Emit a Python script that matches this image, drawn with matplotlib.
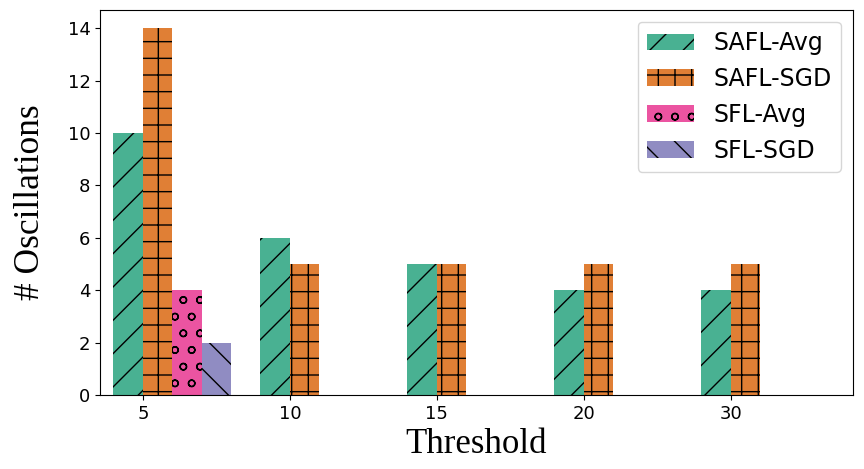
import matplotlib as mpl
mpl.use('Agg')
import matplotlib.pyplot as plt
import numpy as np

thresholds = ['5', '10', '15', '20', '30']
safl_avg = [10, 6, 5, 4, 4]
safl_sgd = [14, 5, 5, 5, 5]
sfl_avg = [4, 0, 0, 0, 0]
sfl_sgd = [2, 0, 0, 0, 0]

names = ['SAFL-Avg', 'SAFL-SGD', 'SFL-Avg', 'SFL-SGD']
series = [safl_avg, safl_sgd, sfl_avg, sfl_sgd]
colors = ['#1b9e77', '#d95f02', '#e7298a', '#7570b3']
hatches = ['/', '+', 'o', '\\']

fig, ax = plt.subplots(figsize=(8.64, 4.69), dpi=100)
x = np.arange(len(thresholds))
w = 0.2
for i in range(4):
    ax.bar(x + (i - 1) * w, series[i], w, align='edge', color=colors[i],
           alpha=0.8, hatch=hatches[i], label=names[i])

ax.set_xticks(x)
ax.set_xticklabels(thresholds)
ax.set_xlim(-0.29, 4.83)
ax.tick_params(labelsize=13)
ax.set_xlabel('Threshold', family='Liberation Serif', fontsize=25)
ax.set_ylabel('# Oscillations', family='Liberation Serif', fontsize=25.5, labelpad=15)
ax.legend(fontsize=17)
plt.subplots_adjust(left=0.116, right=0.987, top=0.979, bottom=0.158)
fig.savefig('out.png')
